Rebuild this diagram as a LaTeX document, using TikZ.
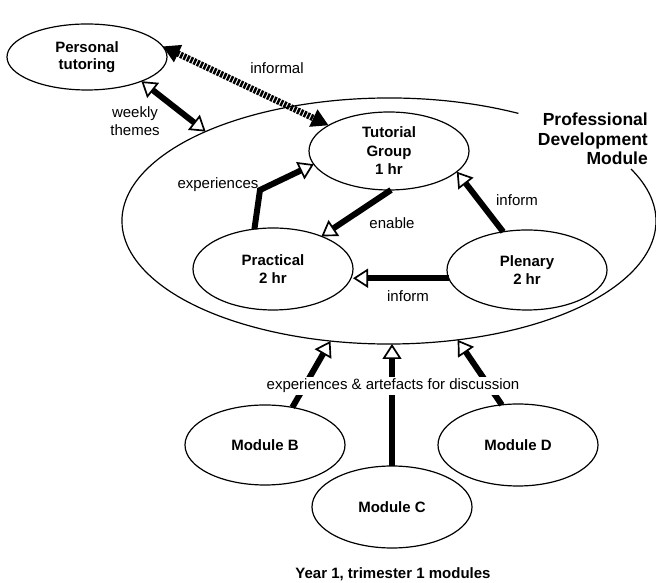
\documentclass[tikz,border=0pt]{standalone}
\usepackage{fontspec}
\setmainfont{Liberation Sans}
\usetikzlibrary{shapes.geometric,arrows.meta}
\tikzset{
  x=1pt,y=1pt,
  blob/.style={ellipse, draw, line width=1.2pt, inner sep=0pt, outer sep=0pt, align=center,
    font=\fontsize{15}{18.5}\selectfont\bfseries},
  lbl/.style={font=\fontsize{15}{18}\selectfont, align=center, inner sep=1pt},
  flow/.style={line width=6pt, -{Triangle[open, fill=white, length=15pt, width=19pt, line width=1.7pt]}},
  both/.style={line width=6pt, {Triangle[open, fill=white, length=15pt, width=19pt, line width=1.7pt]}-{Triangle[open, fill=white, length=15pt, width=19pt, line width=1.7pt]}},
  dotflow/.style={line width=6.5pt, dash pattern=on 2.5pt off 1.2pt, {Triangle[length=17pt, width=18pt]}-{Triangle[length=17pt, width=18pt]}},
}
\begin{document}
\begin{tikzpicture}
\useasboundingbox (0,0) rectangle (656,583);
% outer module ellipse (border drawn as broken arc)
\node[ellipse, minimum width=534pt, minimum height=246pt, inner sep=0pt, outer sep=0pt] (pdm) at (389,362) {};
\draw[line width=1.2pt] ([shift={(61:267pt and 123pt)}]pdm.center) arc[start angle=61, end angle=385, x radius=267pt, y radius=123pt];
\node[anchor=east, align=right, inner sep=0pt, font=\fontsize{17.5}{19.5}\selectfont\bfseries] (pdmlbl) at (648,444) {Professional\\Development\\Module};

\node[blob, minimum width=160pt, minimum height=66pt, font=\fontsize{15}{17}\selectfont\bfseries] (pt) at (87,526) {Personal\\tutoring};
\node[blob, minimum width=160pt, minimum height=78pt] (tut) at (389,432) {Tutorial\\Group\\1 hr};
\node[blob, minimum width=160pt, minimum height=82pt] (prac) at (273,314) {Practical\\2 hr};
\node[blob, minimum width=160pt, minimum height=80pt] (plen) at (527,313) {Plenary\\2 hr};
\node[blob, minimum width=160pt, minimum height=80pt] (modB) at (265,138) {Module B};
\node[blob, minimum width=160pt, minimum height=82pt] (modC) at (392,76) {Module C};
\node[blob, minimum width=160pt, minimum height=82pt] (modD) at (518,138) {Module D};
\node[font=\fontsize{15}{18}\selectfont\bfseries, inner sep=0pt] (cap) at (393,9) {Year 1, trimester 1 modules};

% connectors
\draw[dotflow] (pt.8) -- (tut.157);
\draw[both] (pt.336) -- (pdm.154.7);
\coordinate (bend) at (260,393);
\draw[flow] (prac.115) -- (bend) -- (tut.190);
\draw[flow] (tut.273) -- (prac.34);
\draw[flow] (plen.122) -- (tut.343);
\draw[flow] (plen.186) -- (plen.186 -| prac.east);
\draw[flow] (modB.54) -- (pdm.244);
\draw[flow] (modC.north) -- (modC.north |- pdm.south);
\draw[flow] (modD.112) -- (pdm.300.4);

% labels
\node[lbl] (linformal) at (277,515) {informal};
\node[lbl] (lweekly) at (135,462) {weekly\\themes};
\node[lbl] (lexp) at (218,398) {experiences};
\node[lbl] (lenable) at (392,360) {enable};
\node[lbl] (linf1) at (517,383) {inform};
\node[lbl] (linf2) at (408,287) {inform};
\node[lbl, fill=white, inner sep=2pt] (lart) at (393,197) {experiences \& artefacts for discussion};
\end{tikzpicture}
\end{document}
